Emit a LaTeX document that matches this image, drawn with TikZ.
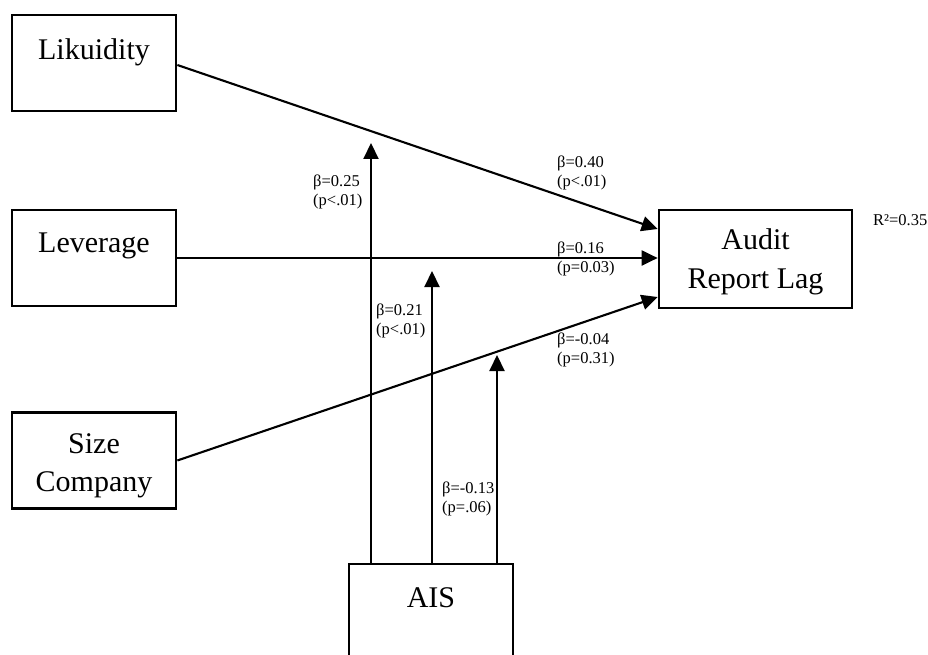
\documentclass[tikz,border=0pt]{standalone}
\usepackage{fontspec}
\setmainfont{Liberation Serif}
\usetikzlibrary{arrows.meta}
\begin{document}
\begin{tikzpicture}[x=1pt,y=-1pt,
  box/.style={draw,line width=2.7pt,minimum width=164pt,minimum height=96pt,inner sep=0pt},
  big/.style={font=\fontsize{30}{38}\selectfont,anchor=base,inner sep=0pt},
  arr/.style={line width=2.1pt,-{Triangle[length=16pt,width=15pt]}},
  lbl/.style={font=\fontsize{16.5}{19.5}\selectfont,align=left,anchor=west,inner sep=0pt}]
\useasboundingbox (0,0) rectangle (928,655);
\fill[white] (0,0) rectangle (928,655);

% boxes
\node[box] (L) at (94,63) {};
\node[box] (V) at (94,258) {};
\node[box] (S) at (94,460.5) {};
\node[box,minimum width=193pt,minimum height=98pt] (A) at (755.5,259) {};
\begin{scope}
  \clip (0,0) rectangle (928,655);
  \node[box,minimum height=112pt] (M) at (431,620) {};
\end{scope}

% box texts
\node[big] (tL) at (94,60) {Likuidity};
\node[big] (tV) at (94,252) {Leverage};
\node[big] (tS1) at (94,453) {Size};
\node[big] (tS2) at (94,491) {Company};
\node[big] (tA1) at (755.5,249) {Audit};
\node[big] (tA2) at (755.5,288) {Report Lag};
\node[big] (tM) at (431,607) {AIS};

% main arrows
\draw[arr] ([yshift=-2pt]L.east) -- ([yshift=30pt]A.west);
\draw[arr] (V.east) -- (V.east -| A.west);
\draw[arr] (S.east) -- ([yshift=-38pt]A.west);

% moderator arrows
\coordinate (m1) at (371,143);
\coordinate (m2) at (432,271);
\coordinate (m3) at (497,355);
\draw[arr] (M.north -| m1) -- (m1);
\draw[arr] (M.north -| m2) -- (m2);
\draw[arr] (M.north -| m3) -- (m3);

% labels
\node[lbl] (b1) at (557,173) {β=0.40\\(p<.01)};
\node[lbl] (b2) at (557,259) {β=0.16\\(p=0.03)};
\node[lbl] (b3) at (557,350) {β=-0.04\\(p=0.31)};
\node[lbl] (b4) at (313,192) {β=0.25\\(p<.01)};
\node[lbl] (b5) at (376,321) {β=0.21\\(p<.01)};
\node[lbl] (b6) at (442,499) {β=-0.13\\(p=.06)};
\node[lbl] (r2) at (873,220) {R²=0.35};
\end{tikzpicture}
\end{document}
